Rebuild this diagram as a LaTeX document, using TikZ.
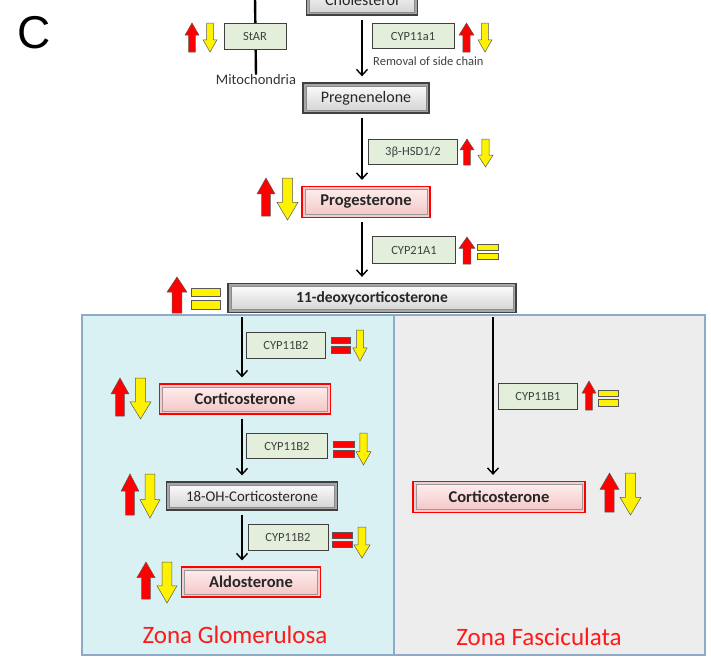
\documentclass[tikz,border=0pt]{standalone}
\usepackage{fontspec}
\setmainfont{Carlito}
\newfontfamily\letterfont{Liberation Sans}
\usetikzlibrary{arrows.meta}

\definecolor{enzgreen}{RGB}{227,239,218}
\definecolor{glomfill}{RGB}{218,241,243}
\definecolor{fascfill}{RGB}{237,237,237}
\definecolor{zoneline}{RGB}{143,170,200}
\definecolor{pinkband}{RGB}{244,204,204}
\definecolor{pinktop}{RGB}{255,240,240}
\definecolor{pinkbot}{RGB}{243,196,196}
\definecolor{zonered}{RGB}{255,25,25}

\tikzset{
  every node/.style={inner sep=0pt},
  flow/.style={line width=1.4pt, -{Straight Barb[length=6pt,width=11pt]},
    shorten <=4pt, shorten >=6pt},
  enzyme/.style={draw=black!75, line width=0.9pt, fill=enzgreen, minimum height=26pt,
    text=black!75, font=\fontsize{12.5}{14}\selectfont},
  molgray/.style={draw=black!75, line width=1.3pt, fill=black!35, minimum height=30pt,
    text=black!85, font=\fontsize{16}{19}\selectfont,
    path picture={\shade[top color=white, bottom color=black!18, draw=black!45, line width=0.6pt]
      ([shift={(3pt,-3pt)}]path picture bounding box.north west) rectangle
      ([shift={(-3pt,3pt)}]path picture bounding box.south east);}},
  molred/.style={draw=red, line width=1.2pt, fill=pinkband, minimum height=30pt,
    text=black!85, font=\fontsize{16.5}{19}\bfseries,
    path picture={\shade[top color=pinktop, bottom color=pinkbot, draw=black!40, line width=0.6pt]
      ([shift={(3pt,-3pt)}]path picture bounding box.north west) rectangle
      ([shift={(-3pt,3pt)}]path picture bounding box.south east);}},
  zone/.style={text=zonered, font=\fontsize{25}{28}\selectfont},
}

% fat arrows: left, right, top, bottom
\newcommand{\fatUp}[4]{%
  \pgfmathsetmacro\fatM{(#1+#2)/2}\pgfmathsetmacro\fatW{(#2-#1)*0.24}%
  \pgfmathsetmacro\fatH{#3+0.42*(#4-#3)}%
  \filldraw[fill=red, draw=black!65, line width=0.5pt] (\fatM,#3) -- (#2,\fatH) -- (\fatM+\fatW,\fatH)
    -- (\fatM+\fatW,#4) -- (\fatM-\fatW,#4) -- (\fatM-\fatW,\fatH) -- (#1,\fatH) -- cycle;}
\newcommand{\fatDown}[4]{%
  \pgfmathsetmacro\fatM{(#1+#2)/2}\pgfmathsetmacro\fatW{(#2-#1)*0.24}%
  \pgfmathsetmacro\fatH{#4-0.42*(#4-#3)}%
  \filldraw[fill=yellow, draw=black!65, line width=0.5pt] (\fatM,#4) -- (#2,\fatH) -- (\fatM+\fatW,\fatH)
    -- (\fatM+\fatW,#3) -- (\fatM-\fatW,#3) -- (\fatM-\fatW,\fatH) -- (#1,\fatH) -- cycle;}
% equal sign: left, right, top, bottom, colour
\newcommand{\fatEq}[5]{%
  \pgfmathsetmacro\fatB{0.41*(#4-#3)}%
  \filldraw[fill=#5, draw=black!65, line width=0.5pt] (#1,#3) rectangle (#2,#3+\fatB);
  \filldraw[fill=#5, draw=black!65, line width=0.5pt] (#1,#4-\fatB) rectangle (#2,#4);}

\begin{document}
\begin{tikzpicture}[x=1pt, y=-1pt]
  \useasboundingbox (0,0) rectangle (711,656);
  \clip (0,0) rectangle (711,656);

  % zones
  \filldraw[fill=glomfill, draw=zoneline, line width=1.2pt] (82,315) rectangle (394,655);
  \filldraw[fill=fascfill, draw=zoneline, line width=1.2pt] (394,315) rectangle (705,655);
  \node[zone] (glom) at (235,635) {Zona Glomerulosa};
  \node[zone] (fasc) at (539,637) {Zona Fasciculata};

  \node[font=\letterfont\fontsize{46}{50}\selectfont] (panel) at (34,33) {C};

  % StAR transport
  \coordinate (startop) at (255,-2);
  \node[text=black!80, font=\fontsize{14.5}{16}\selectfont] (mito) at (256,80) {Mitochondria};
  \draw[line width=2.4pt] (startop) -- (mito.north);
  \node[enzyme, minimum width=62pt] (star) at (255,36) {StAR};

  % main chain
  \node[molgray, minimum width=111pt] (chol) at (362,0) {Cholesterol};
  \node[molgray, minimum width=126pt] (preg) at (366,98) {Pregnenelone};
  \node[molred, minimum width=128pt, minimum height=31pt] (prog) at (366,202) {Progesterone};
  \node[molgray, minimum width=288pt, minimum height=29pt, font=\fontsize{15.5}{18}\bfseries] (deoxy) at (372,298) {11-deoxycorticosterone};

  \node[enzyme, minimum width=82pt, minimum height=25pt] (cyp11a1) at (413,36) {CYP11a1};
  \node[anchor=west, text=black!75, font=\fontsize{12.5}{14}\selectfont] (removal) at (373,61) {Removal of side chain};
  \node[enzyme, minimum width=89pt, minimum height=25pt] (hsd) at (413,152) {3β-HSD1/2};
  \node[enzyme, minimum width=83pt, minimum height=27pt] (cyp21) at (414,250) {CYP21A1};

  \draw[flow] (chol.south) -- (chol.south |- preg.north);
  \draw[flow] (preg.south -| chol) -- (chol |- prog.north);
  \draw[flow] (prog.south -| chol) -- (chol |- deoxy.north);

  % zona glomerulosa
  \coordinate (gline) at (242,0);
  \node[molred, minimum width=171pt] (cortG) at (245,399) {Corticosterone};
  \node[molgray, minimum width=171pt, minimum height=28pt, font=\fontsize{14.8}{17}\selectfont] (oh18) at (252,496) {18-OH-Corticosterone};
  \node[molred, minimum width=139pt] (aldo) at (251,582) {Aldosterone};
  \node[enzyme, minimum width=79pt] (b2a) at (286,345) {CYP11B2};
  \node[enzyme, minimum width=81pt, minimum height=25pt] (b2b) at (287,446) {CYP11B2};
  \node[enzyme, minimum width=80pt] (b2c) at (288,537) {CYP11B2};

  \draw[flow] (deoxy.south -| gline) -- (cortG.north -| gline);
  \draw[flow] (cortG.south -| gline) -- (oh18.north -| gline);
  \draw[flow] (oh18.south -| gline) -- (aldo.north -| gline);

  % zona fasciculata
  \coordinate (fline) at (493,0);
  \node[molred, minimum width=172pt, minimum height=31pt] (cortF) at (499,497) {Corticosterone};
  \node[enzyme, minimum width=79pt] (b1) at (538,396) {CYP11B1};
  \draw[flow] (deoxy.south -| fline) -- (cortF.north -| fline);

  % regulation marks
  \fatUp{185}{199}{23}{52}    \fatDown{203}{217}{23}{52}
  \fatUp{459}{474}{23}{52}    \fatDown{478}{492}{23}{52}
  \fatUp{460}{474}{139}{165}  \fatDown{478}{493}{139}{167}
  \fatUp{257}{275}{178}{216}  \fatDown{277}{298}{178}{220}
  \fatUp{459}{475}{237}{264}  \fatEq{477}{498}{244}{259}{yellow}
  \fatUp{167}{187}{277}{313}  \fatEq{191}{220}{288}{309}{yellow}
  \fatEq{331}{350}{337}{353}{red}  \fatDown{353}{367}{330}{361}
  \fatUp{111}{129}{378}{416}  \fatDown{130}{151}{378}{419}
  \fatEq{333}{354}{441}{457}{red}  \fatDown{356}{371}{433}{465}
  \fatUp{121}{139}{474}{515}  \fatDown{140}{160}{474}{518}
  \fatEq{332}{352}{532}{547}{red}  \fatDown{354}{370}{527}{558}
  \fatUp{137}{155}{562}{599}  \fatDown{157}{177}{562}{603}
  \fatUp{582}{596}{381}{410}  \fatEq{598}{618}{390}{406}{yellow}
  \fatUp{600}{619}{473}{512}  \fatDown{620}{641}{473}{515}
\end{tikzpicture}
\end{document}
